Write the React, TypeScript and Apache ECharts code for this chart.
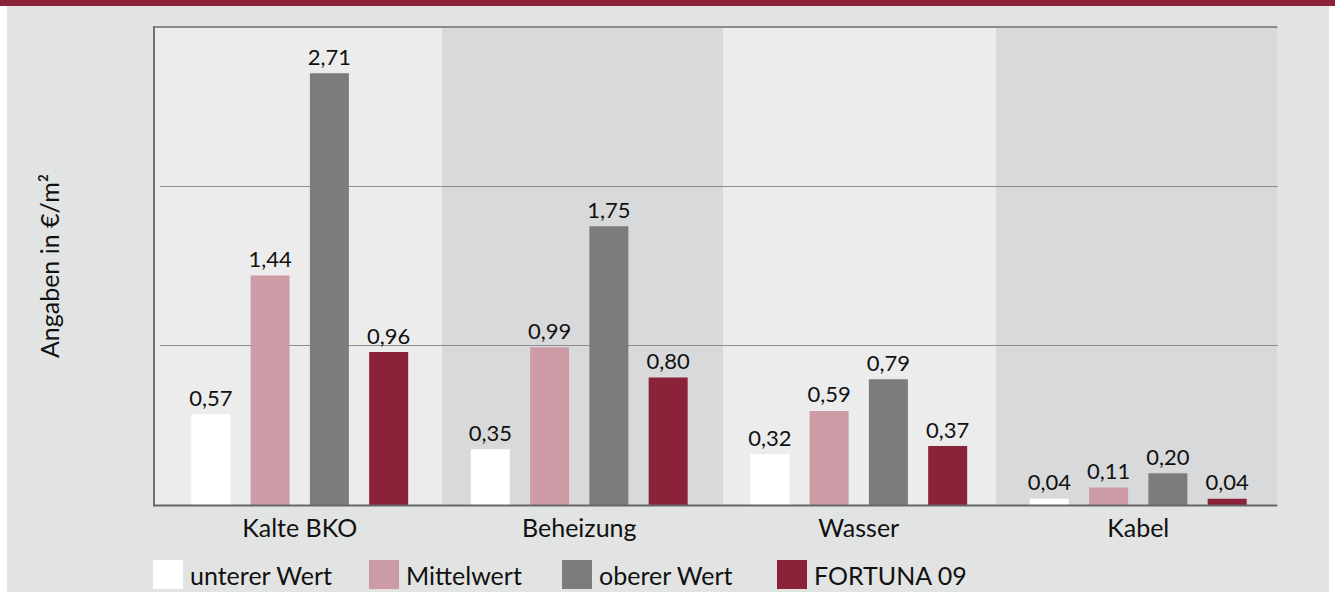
import React, { useEffect, useRef } from "react";
import * as echarts from "echarts";

const categories = ["Kalte BKO", "Beheizung", "Wasser", "Kabel"];
const seriesNames = ["unterer Wert", "Mittelwert", "oberer Wert", "FORTUNA 09"];
const unterer = [0.57, 0.35, 0.32, 0.04];
const mittel = [1.44, 0.99, 0.59, 0.11];
const oberer = [2.71, 1.75, 0.79, 0.2];
const fortuna = [0.96, 0.8, 0.37, 0.04];
const seriesColors = ["#ffffff", "#cc9ba5", "#7b7c7e", "#8a2239"];
const yMax = 3;

const FONT = "Lato";

export default function App() {
  const ref = useRef<HTMLDivElement>(null);
  useEffect(() => {
    if (!ref.current) return;
    const chart = echarts.init(ref.current, null, { renderer: "svg" });
    const values = [unterer, mittel, oberer, fortuna];
    const fmt = (p: any) => Number(p.value).toFixed(2).replace(".", ",");
    const legendX = [153, 369, 562, 777];
    chart.setOption({
      animation: false,
      backgroundColor: "#ffffff",
      textStyle: { fontFamily: FONT },
      grid: { left: 160, right: 57, top: 27, bottom: 87, containLabel: false },
      xAxis: {
        type: "category",
        data: categories,
        axisLine: { show: false },
        axisTick: { show: false },
        axisLabel: { color: "#111", fontSize: 25, fontFamily: FONT, margin: 9 },
        splitLine: { show: false },
      },
      yAxis: {
        type: "value",
        min: 0,
        max: yMax,
        interval: 1,
        offset: 6,
        axisLabel: { show: false },
        axisTick: { show: false },
        axisLine: { show: false },
        splitLine: { show: true, lineStyle: { color: "#8d8e8f", width: 1.2 } },
        name: "Angaben in €/m²",
        nameLocation: "middle",
        nameGap: 93,
        nameTextStyle: { color: "#111", fontSize: 25, fontFamily: FONT },
      },
      legend: seriesNames.map((n, i) => ({
        data: [n],
        left: legendX[i],
        top: 560,
        itemWidth: 30,
        itemHeight: 29,
        icon: "rect",
        padding: 0,
        textStyle: { color: "#111", fontSize: 25, fontFamily: FONT, padding: [0, 0, 0, 2] },
      })),
      series: seriesNames.map((n, i) => ({
        name: n,
        type: "bar",
        data: values[i],
        barWidth: 39,
        barGap: "52%",
        itemStyle: { color: seriesColors[i] },
        label: {
          show: true,
          position: "top",
          distance: 6,
          formatter: fmt,
          color: "#111",
          fontSize: 22,
          fontFamily: FONT,
        },
        z: 3,
      })),
      graphic: [
        { type: "rect", z: -20, silent: true, shape: { x: 7, y: 0, width: 1322, height: 592 }, style: { fill: "#e2e3e3" } },
        { type: "rect", z: -20, silent: true, shape: { x: 0, y: 0, width: 1335, height: 6 }, style: { fill: "#8a2239" } },
        { type: "rect", z: -19, silent: true, shape: { x: 154, y: 27, width: 288, height: 478 }, style: { fill: "#ebeceb" } },
        { type: "rect", z: -19, silent: true, shape: { x: 442, y: 27, width: 281, height: 478 }, style: { fill: "#d8d9db" } },
        { type: "rect", z: -19, silent: true, shape: { x: 723, y: 27, width: 273, height: 478 }, style: { fill: "#ebeceb" } },
        { type: "rect", z: -19, silent: true, shape: { x: 996, y: 27, width: 281, height: 478 }, style: { fill: "#d8d9db" } },
        { type: "line", z: 10, silent: true, shape: { x1: 154, y1: 27, x2: 1277, y2: 27 }, style: { stroke: "#8a8b8c", lineWidth: 2 } },
        { type: "line", z: 10, silent: true, shape: { x1: 154, y1: 26, x2: 154, y2: 506 }, style: { stroke: "#707173", lineWidth: 2 } },
        { type: "line", z: 10, silent: true, shape: { x1: 153, y1: 505.5, x2: 1277, y2: 505.5 }, style: { stroke: "#666769", lineWidth: 2 } },
      ],
    });
    return () => chart.dispose();
  }, []);
  return (
    <div
      ref={ref}
      style={{ position: "absolute", left: 0, top: 0, width: 1335, height: 592 }}
    />
  );
}
